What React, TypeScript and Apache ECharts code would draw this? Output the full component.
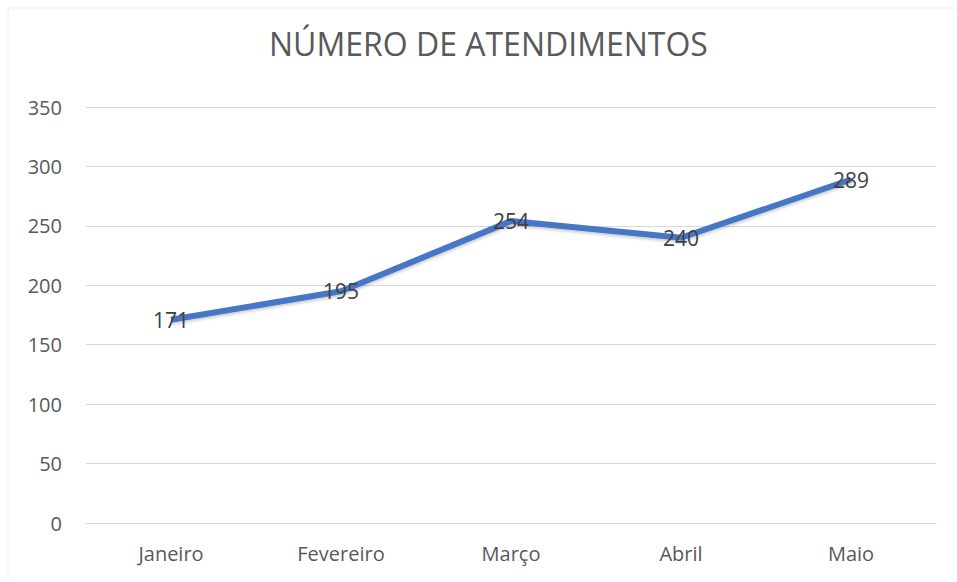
import React, { useEffect, useRef } from "react";
import * as echarts from "echarts";

const categories = ["Janeiro", "Fevereiro", "Março", "Abril", "Maio"];
const values = [171, 195, 254, 240, 289];
const yTicks = { min: 0, max: 350, interval: 50 };
const title = "NÚMERO DE ATENDIMENTOS";

export default function App() {
  const ref = useRef<HTMLDivElement>(null);
  useEffect(() => {
    if (!ref.current) return;
    const chart = echarts.init(ref.current, undefined, { renderer: "svg" });
    chart.setOption({
      animation: false,
      backgroundColor: "#ffffff",
      textStyle: { fontFamily: "Open Sans" },
      title: {
        text: title,
        left: 264,
        top: 22,
        textStyle: { fontFamily: "Open Sans", fontSize: 32, fontWeight: "normal", color: "#595959" },
      },
      graphic: [
        {
          type: "rect",
          shape: { x: 8, y: 8, width: 1000, height: 700 },
          style: { fill: "none", stroke: "#e4e4e4", lineWidth: 1, lineDash: [2, 2] },
          silent: true,
        },
      ],
      grid: { left: 86, right: 21, top: 107, bottom: 59, containLabel: false },
      xAxis: {
        type: "category",
        data: categories,
        boundaryGap: true,
        axisLine: { show: true, lineStyle: { color: "#d9d9d9", width: 1 } },
        axisTick: { show: false },
        axisLabel: { color: "#595959", fontSize: 20, margin: 20 },
      },
      yAxis: {
        type: "value",
        min: yTicks.min,
        max: yTicks.max,
        interval: yTicks.interval,
        axisLine: { show: false },
        axisTick: { show: false },
        axisLabel: { color: "#595959", fontSize: 20, margin: 24 },
        splitLine: { lineStyle: { color: "#d9d9d9", width: 1 } },
      },
      series: [
        {
          type: "line",
          data: values,
          showSymbol: true,
          showAllSymbol: true,
          symbol: "circle",
          symbolSize: 2,
          lineStyle: { color: "#4776c4", width: 6, shadowColor: "rgba(0,0,0,0.2)", shadowBlur: 3, shadowOffsetY: 2 },
          itemStyle: { color: "rgba(68,114,196,0)", borderWidth: 0 },
          label: {
            show: true,
            position: "inside",
            offset: [0, 2],
            formatter: "{c}",
            color: "#404040",
            fontSize: 21,
            fontFamily: "Open Sans",
          },
          labelLayout: { hideOverlap: false },
        },
      ],
    });
    return () => chart.dispose();
  }, []);
  return (
    <div
      ref={ref}
      style={{ position: "absolute", left: 0, top: 0, width: 957, height: 582 }}
    />
  );
}
